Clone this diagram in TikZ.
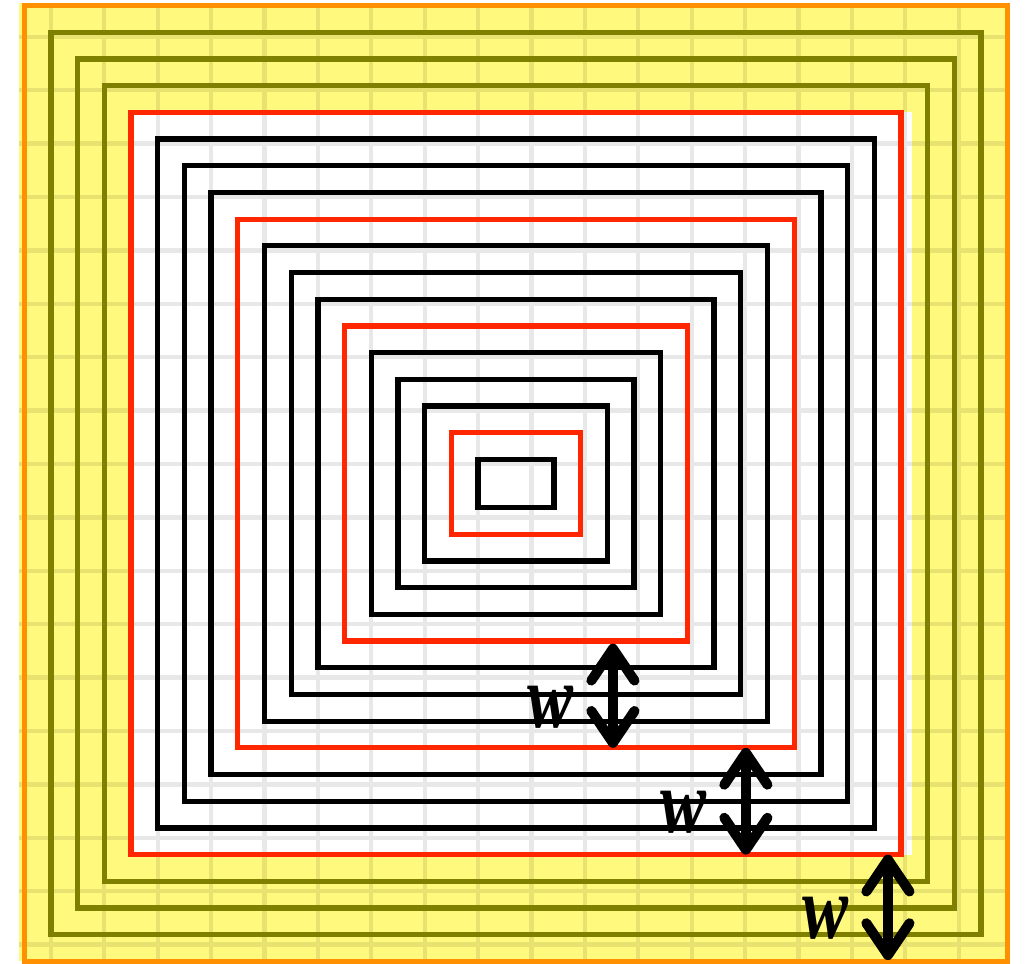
\documentclass[tikz,border=0pt]{standalone}
\usepackage{fontspec}
\setmainfont{Liberation Serif}
\usetikzlibrary{arrows.meta,positioning,calc}
\definecolor{ringred}{RGB}{255,38,0}
\definecolor{ringolive}{RGB}{128,128,0}
\definecolor{ringorange}{RGB}{255,145,0}
\definecolor{padyellow}{RGB}{255,250,125}
\newcommand{\wsym}{\scalebox{0.92}[1.2]{w}}

\tikzset{
  ring/.style={line width=2.8pt},
  wbar/.style={<->,line width=5.3pt},
  wlabel/.style={font=\fontsize{40}{40}\selectfont\bfseries\itshape,inner sep=0pt}
}

\begin{document}
\begin{tikzpicture}[x=0.5cm,y=0.5cm,>={Straight Barb[length=17pt,width=23pt,round]}]
  \useasboundingbox (-19.326,-17.996) rectangle (19.326,18.109);
  \fill[padyellow] (-18.62,-17.9) rectangle (18.42,17.98);
  \fill[white] (-14.42,-13.9) rectangle (14.83,13.9);
  \begin{scope}
    \clip (-18.62,-17.9) rectangle (18.42,17.98);
    \begin{scope}[shift={(0.58,0.73)}]
      \draw[black,opacity=0.09,line width=2.3pt] (-20,-20) grid (19,18);
    \end{scope}
  \end{scope}
  \foreach \k/\col in {0/black,1/ringred,2/black,3/black,4/black,5/ringred,6/black,7/black,8/black,
                       9/ringred,10/black,11/black,12/black,13/ringred,14/ringolive,15/ringolive,
                       16/ringolive,17/ringorange}
    \draw[ring,\col] (-1.42-\k,-0.9-\k) rectangle (1.42+\k,0.9+\k);
  \coordinate (top1) at (3.63,-6.0);
  \coordinate (bot1) at (3.63,-9.9);
  \coordinate (top2) at (8.61,-9.9);
  \coordinate (bot2) at (8.61,-13.9);
  \coordinate (top3) at (13.93,-13.9);
  \coordinate (bot3) at (13.93,-17.85);
  \draw[wbar] (top1) -- (bot1);
  \draw[wbar] (top2) -- (bot2);
  \draw[wbar] (top3) -- (bot3);
  \node[wlabel] (w1) at ($(top1)!0.5!(bot1)+(-2.32,-0.42)$) {\wsym};
  \node[wlabel] (w2) at ($(top2)!0.5!(bot2)+(-2.32,-0.42)$) {\wsym};
  \node[wlabel] (w3) at ($(top3)!0.5!(bot3)+(-2.32,-0.42)$) {\wsym};
\end{tikzpicture}
\end{document}
